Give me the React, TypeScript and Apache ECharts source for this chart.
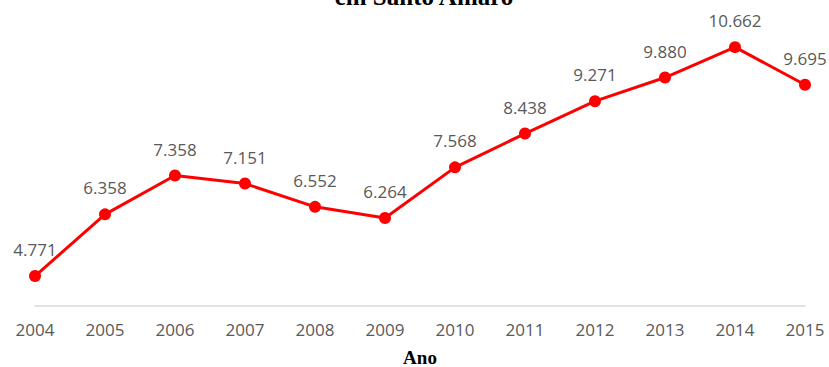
import React, { useEffect, useRef } from "react";
import * as echarts from "echarts";

const years = ["2004", "2005", "2006", "2007", "2008", "2009", "2010", "2011", "2012", "2013", "2014", "2015"];
const values = [4.771, 6.358, 7.358, 7.151, 6.552, 6.264, 7.568, 8.438, 9.271, 9.88, 10.662, 9.695];

export default function App() {
  const ref = useRef<HTMLDivElement>(null);
  useEffect(() => {
    const chart = echarts.init(ref.current!, null, { renderer: "svg" });
    chart.setOption({
      animation: false,
      backgroundColor: "#ffffff",
      title: {
        text: "em Santo Amaro",
        left: 419,
        textAlign: "center",
        top: -21,
        textStyle: { fontFamily: "Liberation Serif", fontWeight: "bold", fontSize: 25, color: "#000" },
      },
      grid: { left: 35, right: 24, top: 34, bottom: 61, outerBoundsMode: "none", containLabel: false },
      xAxis: {
        type: "category",
        data: years,
        boundaryGap: false,
        axisLine: { lineStyle: { color: "#d9d9d9", width: 1.5 } },
        axisTick: { show: false },
        axisLabel: { color: "#595959", fontSize: 17, fontFamily: "Open Sans", margin: 15 },
        name: "Ano",
        nameLocation: "middle",
        nameGap: 42,
        nameTextStyle: { fontFamily: "Liberation Serif", fontWeight: "bold", fontSize: 19, color: "#000" },
      },
      yAxis: {
        type: "value",
        min: 4,
        max: 11,
        show: false,
      },
      series: [
        {
          type: "line",
          data: values,
          symbol: "circle",
          symbolSize: 12,
          lineStyle: { color: "#ff0000", width: 3 },
          itemStyle: { color: "#ff0000" },
          label: {
            show: true,
            position: "top",
            distance: 12,
            color: "#595959",
            fontSize: 17,
            fontFamily: "Open Sans",
            formatter: (p: any) => p.value.toFixed(3),
          },
        },
      ],
    });
    return () => chart.dispose();
  }, []);
  return <div ref={ref} style={{ width: 829, height: 367, position: "absolute", left: 0, top: 0 }} />;
}
